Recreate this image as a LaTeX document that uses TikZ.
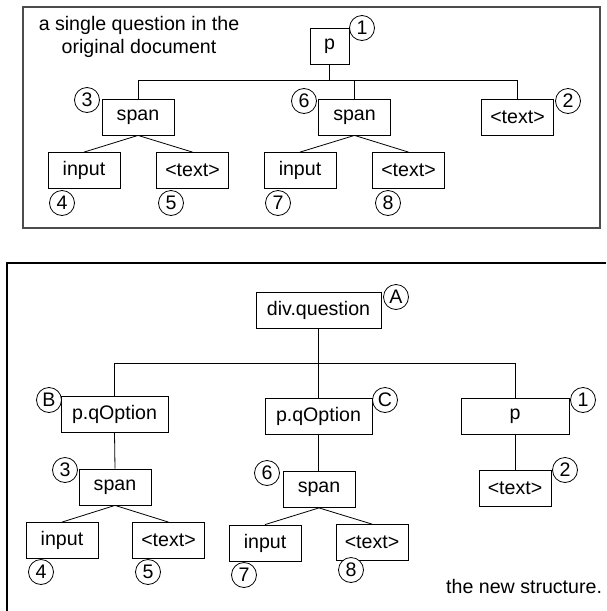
\documentclass[tikz,border=0pt]{standalone}
\usepackage{fontspec}
\setmainfont{Liberation Sans}
\usepackage{tikz}
\usetikzlibrary{positioning}
\newcommand{\labfont}{\fontsize{19.6}{23}\selectfont}
\tikzset{
  tag/.style={draw, rectangle, line width=0.8pt, minimum width=72pt, minimum height=36pt, inner sep=0pt, font=\labfont},
  num/.style={draw, circle, fill=white, line width=0.8pt, minimum size=25pt, inner sep=0pt, font=\labfont},
  link/.style={line width=0.8pt},
  panel/.style={line width=1.5pt, black!70}
}

\begin{document}
\begin{tikzpicture}[x=1pt, y=-1pt]
    \useasboundingbox (0,0) rectangle (606,611);

    % original document
    \draw[panel] (23,7) rectangle (600,228);
    \node[font=\labfont, align=center] (capTop) at (139,37) {a single question in the\\original document};

    \node[tag, minimum width=39pt] (topP) at (329.5,46) {p};
    \node[tag] (topSpanL) at (138,117) {span};
    \node[tag] (topSpanR) at (354.5,117) {span};
    \node[tag] (topText) at (517.5,117) {<text>};
    \node[tag] (topInL) at (84,170.5) {input};
    \node[tag] (topTxtL) at (192.5,170.5) {<text>};
    \node[tag] (topInR) at (300,170.5) {input};
    \node[tag] (topTxtR) at (408.5,170.5) {<text>};

    \coordinate (topBar) at (0,80);
    \draw[link] (topP.south) -- (topP.south |- topBar);
    \draw[link] (topSpanL.north) -- (topSpanL.north |- topBar) -| (topText.north);
    \draw[link] (topSpanR.north) -- (topSpanR.north |- topBar);
    \foreach \kid in {topInL, topTxtL} { \draw[link] (topSpanL.south) -- (\kid.north); }
    \foreach \kid in {topInR, topTxtR} { \draw[link] (topSpanR.south) -- (\kid.north); }

    \node[num] (t1) at (362,28) {1};
    \node[num] (t2) at (568,101) {2};
    \node[num] (t3) at (87,100) {3};
    \node[num] (t4) at (62,203) {4};
    \node[num] (t5) at (171,203) {5};
    \node[num] (t6) at (304,101) {6};
    \node[num] (t7) at (278,203) {7};
    \node[num] (t8) at (388,203) {8};

    % new structure
    \draw[line width=1.3pt] (7,611) -- (7,263) -- (606,263);

    \node[tag, minimum width=125pt] (div) at (318.5,310) {div.question};
    \node[tag, minimum width=107pt] (optB) at (114.5,414) {p.qOption};
    \node[tag, minimum width=107pt] (optC) at (318.5,416) {p.qOption};
    \node[tag, minimum width=108pt] (botP) at (515,416) {p};
    \node[tag] (botSpanL) at (115,487) {span};
    \node[tag] (botSpanR) at (319,489.5) {span};
    \node[tag] (botText) at (515,488.5) {<text>};
    \node[tag] (botInL) at (62,540.5) {input};
    \node[tag] (botTxtL) at (168.5,540.5) {<text>};
    \node[tag] (botInR) at (265,543) {input};
    \node[tag] (botTxtR) at (372,542.5) {<text>};

    \coordinate (botBar) at (0,363);
    \draw[link] (div.south) -- (optC.north);
    \draw[link] (optB.north) -- (optB.north |- botBar) -| (botP.north);
    \draw[link] (optB.south) -- (botSpanL.north);
    \draw[link] (optC.south) -- (optC.south |- botSpanR.north);
    \draw[link] (botP.south) -- (botText.north);
    \foreach \kid in {botInL, botTxtL} { \draw[link] (botSpanL.south) -- (\kid.north); }
    \foreach \kid in {botInR, botTxtR} { \draw[link] (botSpanR.south) -- (\kid.north); }

    \node[num] (bA) at (396,297) {A};
    \node[num] (bB) at (49,400) {B};
    \node[num] (bC) at (385,400) {C};
    \node[num] (b1) at (583,400) {1};
    \node[num] (b2) at (565,470) {2};
    \node[num] (b3) at (65,470) {3};
    \node[num] (b4) at (41,572) {4};
    \node[num] (b5) at (148,572) {5};
    \node[num] (b6) at (267,473) {6};
    \node[num] (b7) at (244,575) {7};
    \node[num] (b8) at (351,570) {8};

    \node[font=\labfont, anchor=base west, inner sep=0pt] (capBot) at (446,593) {the new structure.};
\end{tikzpicture}
\end{document}
